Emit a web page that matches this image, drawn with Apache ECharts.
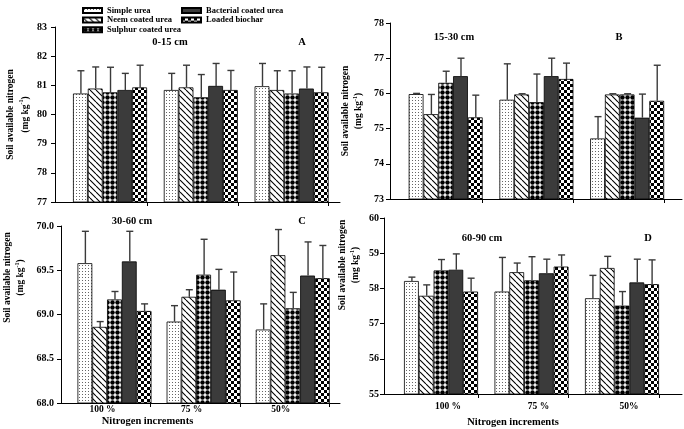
<!DOCTYPE html>
<html><head><meta charset="utf-8">
<script src="https://cdn.jsdelivr.net/npm/echarts@6/dist/echarts.min.js"></script>
<style>html,body{margin:0;padding:0;background:#fff}#c{width:684px;height:429px}</style>
</head><body><div id="c"></div>
<script>
const categories = ['100 %', '75 %', '50%'];
const seriesNames = ['Simple urea', 'Neem coated urea', 'Sulphur coated urea', 'Bacterial coated urea', 'Loaded biochar'];
const depthLabels = ['0-15 cm', '15-30 cm', '30-60 cm', '60-90 cm'];
const panelLetters = ['A', 'B', 'C', 'D'];
const xAxisTitle = 'Nitrogen increments';
// rows follow seriesNames, columns follow categories
const meanA = [
  [80.72, 80.84, 80.97],
  [80.89, 80.93, 80.84],
  [80.76, 80.59, 80.72],
  [80.84, 80.98, 80.89],
  [80.93, 80.84, 80.76]];
const errA = [
  [0.78, 0.57, 0.78],
  [0.74, 0.76, 0.66],
  [0.86, 0.78, 0.78],
  [0.57, 0.77, 0.74],
  [0.76, 0.67, 0.86]];
const meanB = [
  [75.98, 75.82, 74.72],
  [75.41, 75.97, 75.97],
  [76.30, 75.75, 75.97],
  [76.49, 76.49, 75.31],
  [75.32, 76.41, 75.79]];
const errB = [
  [0.02, 1.02, 0.62],
  [0.56, 0.02, 0.02],
  [0.33, 0.80, 0.02],
  [0.51, 0.51, 0.67],
  [0.63, 0.45, 1.01]];
const meanC = [
  [69.58, 68.92, 68.83],
  [68.86, 69.20, 69.67],
  [69.17, 69.45, 69.07],
  [69.60, 69.28, 69.44],
  [69.04, 69.16, 69.41]];
const errC = [
  [0.36, 0.18, 0.29],
  [0.06, 0.08, 0.29],
  [0.09, 0.40, 0.18],
  [0.34, 0.23, 0.38],
  [0.08, 0.32, 0.37]];
const meanD = [
  [58.21, 57.91, 57.72],
  [57.79, 58.46, 58.58],
  [58.51, 58.23, 57.51],
  [58.53, 58.43, 58.17],
  [57.91, 58.62, 58.12]];
const errD = [
  [0.11, 0.97, 0.65],
  [0.31, 0.26, 0.33],
  [0.31, 0.67, 0.40],
  [0.45, 0.40, 0.66],
  [0.38, 0.33, 0.69]];
const yRangeA = [77, 83, 1];
const yRangeB = [73, 78, 1];
const yRangeC = [68, 70, 0.5];
const yRangeD = [55, 60, 1];

const FONT = '"Liberation Serif", "Times New Roman", serif';
const BW = 14.8;

function pat(kind) {
  const c = document.createElement('canvas');
  let w = 6, h = 6;
  if (kind === 'dots') { w = 3; h = 3; }
  if (kind === 'diamond') { w = 5; h = 5; }
  c.width = w; c.height = h;
  const g = c.getContext('2d');
  g.fillStyle = '#fff'; g.fillRect(0, 0, w, h);
  g.fillStyle = '#000'; g.strokeStyle = '#000';
  if (kind === 'dots') { g.fillStyle = '#666'; g.fillRect(1, 1, 1, 1); }
  else if (kind === 'hatch') {
    g.lineWidth = 1.1; g.beginPath();
    for (let o = -w; o <= w; o += w) { g.moveTo(o, 0); g.lineTo(o + w, h); }
    g.stroke();
  } else if (kind === 'diamond') {
    g.beginPath(); g.arc(2.5, 2.5, 2.25, 0, Math.PI * 2); g.fill();
  } else if (kind === 'checker') {
    g.fillRect(0, 0, 3, 3); g.fillRect(3, 3, 3, 3);
  }
  return { image: c, repeat: 'repeat' };
}
const fills = [pat('dots'), pat('hatch'), pat('diamond'), '#3b3b3b', pat('checker')];

const panels = [
  { mean: meanA, err: errA, yr: yRangeA, dec: 0, grid: { left: 55, right: 344, top: 27, bottom: 227 }, xr: [-0.606, 2.533], unit: 90.8,
    labels: false, yGap: 21, yShift: 0, yMargin: 8, nameLH: 15, title: [170, 42], letter: [302, 42] },
  { mean: meanB, err: errB, yr: yRangeB, dec: 0, grid: { left: 390, right: 2, top: 23, bottom: 230 }, xr: [-0.614, 2.605], unit: 90.7,
    labels: false, yGap: 25, yShift: 0, yMargin: 6, nameLH: 13, title: [454, 37], letter: [619, 37] },
  { mean: meanC, err: errC, yr: yRangeC, dec: 1, grid: { left: 55, right: 344, top: 226, bottom: 26 }, xr: [-0.60, 2.53], unit: 91,
    labels: true, yGap: 34, yShift: 74, yMargin: 7, nameLH: 13, title: [132, 221], letter: [302, 221],
    lblPad: [0, 24, 0, 0], lblMargin: 2, nameGap: 12, namePad: [0, 106, 0, 0] },
  { mean: meanD, err: errD, yr: yRangeD, dec: 0, grid: { left: 384, right: 2, top: 218, bottom: 35 }, xr: [-0.63, 2.663], unit: 90.5,
    labels: true, yGap: 22, yShift: 82, yMargin: 5, nameLH: 13, title: [482, 238], letter: [648, 238],
    lblPad: [0, 0, 0, 14], lblMargin: 8, nameGap: 23, namePad: [0, 40, 0, 0] }
];

const grids = [], xAxes = [], yAxes = [], series = [], graphics = [];
panels.forEach((P, p) => {
  grids.push(P.grid);
  const edge = 2.5 * BW / P.unit;
  xAxes.push({
    gridIndex: p, type: 'value', min: P.xr[0], max: P.xr[1],
    splitLine: { show: false },
    axisLine: { show: true, onZero: false, lineStyle: { color: '#000', width: 1 } },
    axisTick: { show: true, length: 4, customValues: [edge, 1 + edge, 2 + edge], lineStyle: { color: '#000' } },
    axisLabel: {
      show: P.labels, customValues: [0, 1, 2], formatter: v => categories[Math.round(v)] || '',
      fontFamily: FONT, fontWeight: 'bold', fontSize: 9.5, color: '#000',
      margin: P.lblMargin || 4, padding: P.lblPad || 0
    },
    name: P.labels ? xAxisTitle : '', nameLocation: 'middle', nameGap: P.nameGap || 12,
    nameTextStyle: { fontFamily: FONT, fontWeight: 'bold', fontSize: 10.5, color: '#000', padding: P.namePad || 0 }
  });
  yAxes.push({
    gridIndex: p, type: 'value', min: P.yr[0], max: P.yr[1], interval: P.yr[2],
    splitLine: { show: false },
    axisLine: { show: true, onZero: false, lineStyle: { color: '#000', width: 1 } },
    axisTick: { show: true, length: 4, lineStyle: { color: '#000' } },
    axisLabel: { formatter: v => v.toFixed(P.dec), fontFamily: FONT, fontWeight: 'bold', fontSize: 10, color: '#000', margin: P.yMargin },
    name: '{b|Soil available nitrogen}\n{b|(mg kg}{s|-1}{b|)}',
    nameLocation: 'middle', nameGap: P.yGap,
    nameTextStyle: {
      fontFamily: FONT, fontWeight: 'bold', fontSize: 9.5, color: '#000', lineHeight: P.nameLH,
      padding: [0, 0, 0, P.yShift],
      rich: {
        b: { fontFamily: FONT, fontWeight: 'bold', fontSize: 9.5, color: '#000', lineHeight: P.nameLH },
        s: { fontFamily: FONT, fontWeight: 'bold', fontSize: 6, color: '#000', lineHeight: P.nameLH, verticalAlign: 'top' }
      }
    }
  });
  seriesNames.forEach((nm, k) => {
    series.push({
      type: 'bar', name: nm, xAxisIndex: p, yAxisIndex: p,
      data: categories.map((c, i) => [i, P.mean[k][i]]),
      barWidth: BW, barGap: '0%', clip: true, silent: true,
      itemStyle: { color: fills[k], borderColor: '#000', borderWidth: 0.8 }
    });
  });
  seriesNames.forEach((nm, k) => {
    series.push({
      type: 'custom', name: 'err-' + p + '-' + k, xAxisIndex: p, yAxisIndex: p, z: 5, clip: false, silent: true,
      data: categories.map((c, i) => [i, P.mean[k][i], P.err[k][i]]),
      encode: { x: 0, y: 1 },
      renderItem: (params, api) => {
        const base = api.coord([api.value(0), api.value(1)]);
        const top = api.coord([api.value(0), api.value(1) + api.value(2)]);
        const cx = base[0] + (k - 2) * BW + 0.5;
        const st = { stroke: '#3a3a3a', lineWidth: 1.4 };
        return { type: 'group', children: [
          { type: 'line', shape: { x1: cx, y1: base[1], x2: cx, y2: top[1] }, style: st },
          { type: 'line', shape: { x1: cx - 3.5, y1: top[1], x2: cx + 3.5, y2: top[1] }, style: st }
        ] };
      }
    });
  });
  graphics.push({ type: 'text', x: P.title[0], y: P.title[1], style: { text: depthLabels[p], font: 'bold 10.5px ' + FONT, fill: '#000', align: 'center', verticalAlign: 'middle' } });
  graphics.push({ type: 'text', x: P.letter[0], y: P.letter[1], style: { text: panelLetters[p], font: 'bold 10.5px ' + FONT, fill: '#000', align: 'center', verticalAlign: 'middle' } });
});

const legendBase = {
  orient: 'vertical', itemWidth: 19, itemHeight: 5, itemGap: 0.6, icon: 'rect', selectedMode: false,
  textStyle: { fontFamily: FONT, fontWeight: 'bold', fontSize: 8.5, color: '#000', lineHeight: 6.2, padding: [0, 0, 0, 0] }
};

const chart = echarts.init(document.getElementById('c'), null, { renderer: 'canvas' });
chart.setOption({
  animation: false,
  backgroundColor: '#fff',
  legend: [
    Object.assign({}, legendBase, { left: 77, top: 1, data: seriesNames.slice(0, 3) }),
    Object.assign({}, legendBase, { left: 176, top: 1, data: seriesNames.slice(3) })
  ],
  grid: grids, xAxis: xAxes, yAxis: yAxes, series: series, graphic: graphics
});
</script></body></html>
